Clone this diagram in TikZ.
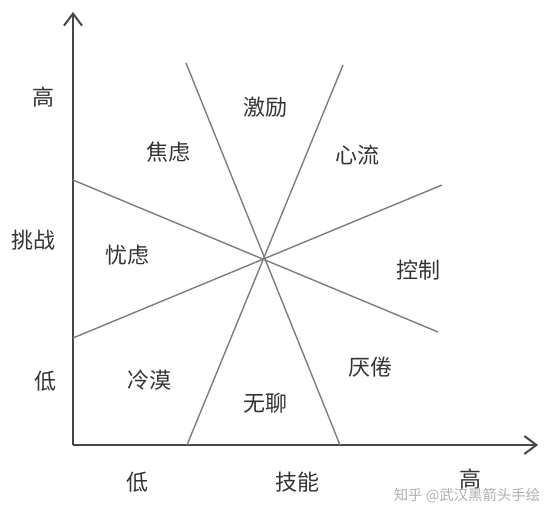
\documentclass[tikz,border=0pt]{standalone}
\usepackage{fontspec}
\usepackage{xcolor}
\newfontfamily\cjk{Noto Sans CJK SC}
\usetikzlibrary{arrows.meta}

\definecolor{axisgray}{RGB}{70,70,70}
\definecolor{linegray}{RGB}{125,125,125}
\definecolor{markgray}{RGB}{175,175,175}

\tikzset{
  axis/.style={draw=axisgray, line width=1.3pt, -{Straight Barb[length=6pt,width=9pt,line width=1pt]}},
  divider/.style={draw=linegray, line width=0.7pt},
  zone/.style={font=\cjk\fontsize{11}{13}\selectfont, text=black!80, inner sep=0pt},
}

\begin{document}
\begin{tikzpicture}[x=0.5pt, y=-0.5pt]
  % Keep the frame of the reference
  \useasboundingbox (0,0) rectangle (544,522);

  % Axes
  \coordinate (origin) at (73,445);
  \coordinate (ytop) at (73,12);
  \coordinate (xend) at (538,445);
  \draw[axis] (origin) -- (ytop);
  \draw[axis] (origin) -- (xend);

  % The four dividing lines through the centre
  \coordinate (ta) at (186,63);
  \coordinate (ba) at (340,445);
  \coordinate (tb) at (343,65);
  \coordinate (bb) at (187,445);
  \coordinate (lc) at (73,180);
  \coordinate (rc) at (438,332);
  \coordinate (ld) at (73,338);
  \coordinate (rd) at (442,185);
  \draw[divider] (ta) -- (ba);
  \draw[divider] (tb) -- (bb);
  \draw[divider] (lc) -- (rc);
  \draw[divider] (ld) -- (rd);

  % Axis labels
  \node[zone] (yhigh) at (43,97) {高};
  \node[zone] (ylabel) at (33,240) {挑战};
  \node[zone] (ylow) at (45,381) {低};
  \node[zone] (xlow) at (137,482) {低};
  \node[zone] (xlabel) at (297,482) {技能};
  \node[zone] (xhigh) at (470,479) {高};

  % States
  \node[zone] (arousal) at (265,107) {激励};
  \node[zone] (anxiety) at (168,152) {焦虑};
  \node[zone] (flow) at (357,155) {心流};
  \node[zone] (worry) at (127,255) {忧虑};
  \node[zone] (control) at (418,270) {控制};
  \node[zone] (apathy) at (149,380) {冷漠};
  \node[zone] (boredom) at (265,403) {无聊};
  \node[zone] (relax) at (370,367) {厌倦};

  % Watermark
  \node[zone, text=markgray, font=\cjk\fontsize{7.2}{9}\selectfont] (mark) at (467,496) {知乎 @武汉黑箭头手绘};
\end{tikzpicture}
\end{document}
